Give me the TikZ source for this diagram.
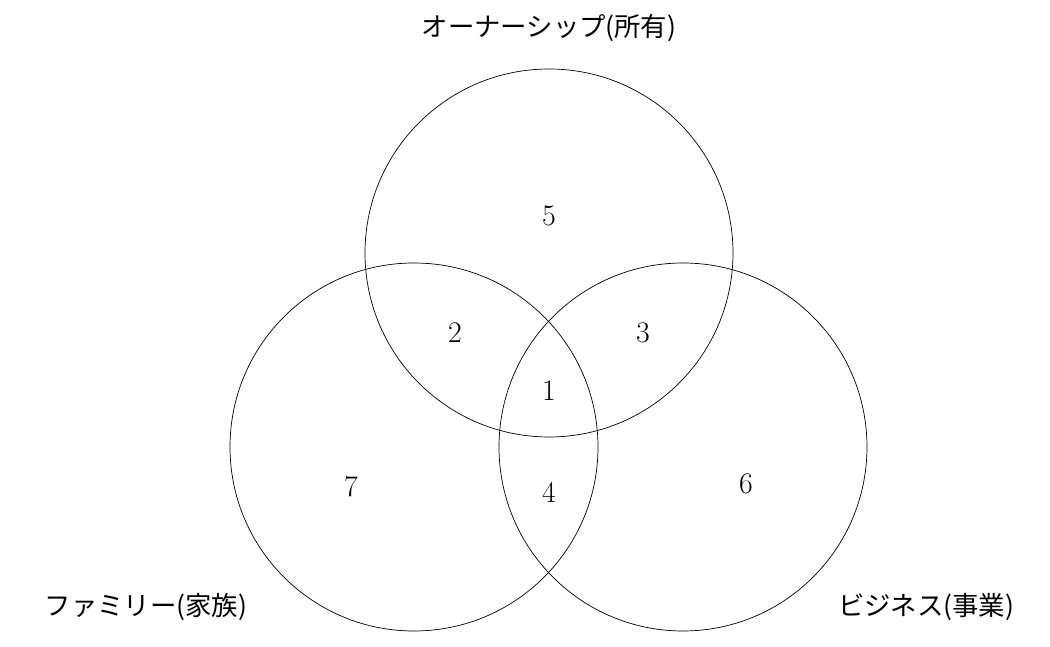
\documentclass[tikz,border=0pt]{standalone}
\usepackage{fontspec}
\newfontfamily\jpfont{Noto Sans CJK JP}
\begin{document}
\begin{tikzpicture}
        [set/.style={circle, draw, thin, minimum size=7.36cm, inner sep=0pt},
        num/.style={font=\fontsize{17}{17}\selectfont},
        label/.style={font=\jpfont\fontsize{15}{15}\selectfont}]

        \useasboundingbox (0,0) rectangle (21,12.94);

        \node[set] (own) at (10.98,7.88) {};
        \node[set] (fam) at (8.28,4.00) {};
        \node[set] (bus) at (13.66,4.00) {};

        % region numbers
        \node[num] (n5) at (10.98,8.62) {5};
        \node[num] (n2) at (9.10,6.28) {2};
        \node[num] (n3) at (12.86,6.28) {3};
        \node[num] (n1) at (10.98,5.12) {1};
        \node[num] (n7) at (7.02,3.20) {7};
        \node[num] (n4) at (10.98,3.08) {4};
        \node[num] (n6) at (14.92,3.26) {6};

        % set names
        \node[label] (ownname) at (10.98,12.38) {オーナーシップ(所有)};
        \node[label] (famname) at (2.92,0.80) {ファミリー(家族)};
        \node[label] (busname) at (18.52,0.80) {ビジネス(事業)};
    \end{tikzpicture}
\end{document}
